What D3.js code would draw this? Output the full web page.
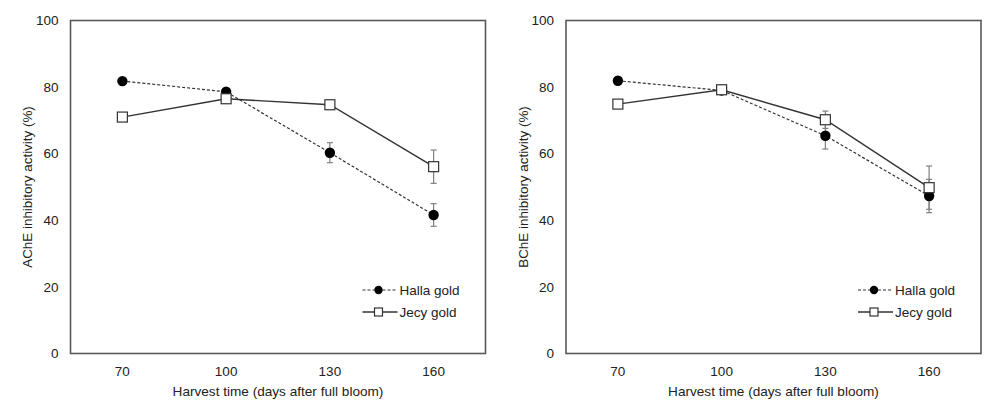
<!DOCTYPE html>
<html>
<head>
<meta charset="utf-8">
<title></title>
<script src="https://cdn.jsdelivr.net/npm/d3@7"></script>
<style>
  body { margin: 0; background: #fff; }
  text { font-family: "Liberation Sans", Arial, sans-serif; fill: #222; }
</style>
</head>
<body>
<script>
const width = 1001
const height = 410

// data
const days = [70, 100, 130, 160]
const yTicks = [0, 20, 40, 60, 80, 100]
const seriesNames = ['Halla gold', 'Jecy gold']

const acheHalla = [81.8, 78.6, 60.3, 41.6]
const acheHallaErr = [0.8, 0.8, 3.0, 3.4]
const acheJecy = [71.0, 76.5, 74.7, 56.1]
const acheJecyErr = [0.8, 1.0, 0.8, 5.0]

const bcheHalla = [81.9, 79.0, 65.4, 47.3]
const bcheHallaErr = [0.8, 0.6, 4.0, 5.0]
const bcheJecy = [74.9, 79.2, 70.2, 49.8]
const bcheJecyErr = [0.6, 0.8, 2.6, 6.5]

const svg = d3.select('body').append('svg')
    .attr('width', width)
    .attr('height', height)

// one panel
function panel(left, yLabel, halla, hallaErr, jecy, jecyErr) {
  const boxW = 415, top = 20.5, bottom = 353.5
  const g = svg.append('g')

  const x = d3.scalePoint()
      .domain(days)
      .range([left, left + boxW])
      .padding(0.5)
  const y = d3.scaleLinear()
      .domain([0, 100])
      .range([bottom, top])

  // frame
  g.append('rect')
      .attr('x', left).attr('y', top)
      .attr('width', boxW).attr('height', bottom - top)
      .attr('fill', 'none')
      .attr('stroke', '#595959')
      .attr('stroke-width', 1.6)

  // y tick labels
  g.selectAll('.yt').data(yTicks).enter().append('text')
      .attr('x', left - 12)
      .attr('y', d => y(d))
      .attr('dy', '0.35em')
      .attr('text-anchor', 'end')
      .style('font-size', '13.5px')
      .text(d => d)

  // x tick labels
  g.selectAll('.xt').data(days).enter().append('text')
      .attr('x', d => x(d))
      .attr('y', 371)
      .attr('dy', '0.35em')
      .attr('text-anchor', 'middle')
      .style('font-size', '13.5px')
      .text(d => d)

  g.append('text')
      .attr('x', left + boxW / 2)
      .attr('y', 391)
      .attr('dy', '0.35em')
      .attr('text-anchor', 'middle')
      .style('font-size', '13.6px')
      .text('Harvest time (days after full bloom)')

  g.append('text')
      .attr('transform', `translate(${left - 43},${(top + bottom) / 2}) rotate(-90)`)
      .attr('dy', '0.35em')
      .attr('text-anchor', 'middle')
      .style('font-size', '13.4px')
      .text(yLabel)

  const line = d3.line().x((d, i) => x(days[i])).y(d => y(d))

  // error bars
  function errBars(vals, errs) {
    const eg = g.append('g').attr('stroke', '#7f7f7f').attr('stroke-width', 1.2)
    vals.forEach((v, i) => {
      const cx = x(days[i])
      eg.append('line').attr('x1', cx).attr('x2', cx)
          .attr('y1', y(v + errs[i])).attr('y2', y(v - errs[i]))
      ;[v + errs[i], v - errs[i]].forEach(e => {
        eg.append('line').attr('x1', cx - 3).attr('x2', cx + 3)
            .attr('y1', y(e)).attr('y2', y(e))
      })
    })
  }
  errBars(halla, hallaErr)
  errBars(jecy, jecyErr)

  g.append('path').datum(halla)
      .attr('d', line)
      .attr('fill', 'none')
      .attr('stroke', '#333')
      .attr('stroke-width', 1.2)
      .attr('stroke-dasharray', '3,2')
  g.append('path').datum(jecy)
      .attr('d', line)
      .attr('fill', 'none')
      .attr('stroke', '#333')
      .attr('stroke-width', 1.4)

  g.selectAll('.hc').data(halla).enter().append('circle')
      .attr('cx', (d, i) => x(days[i]))
      .attr('cy', d => y(d))
      .attr('r', 5.2)
      .attr('fill', '#000')
  g.selectAll('.js').data(jecy).enter().append('rect')
      .attr('x', (d, i) => x(days[i]) - 5)
      .attr('y', d => y(d) - 5)
      .attr('width', 10).attr('height', 10)
      .attr('fill', '#fff')
      .attr('stroke', '#333')
      .attr('stroke-width', 1.2)

  // legend
  const lx = left + 292
  const ly = [290, 312]
  g.append('line').attr('x1', lx).attr('x2', lx + 35)
      .attr('y1', ly[0]).attr('y2', ly[0])
      .attr('stroke', '#333').attr('stroke-width', 1.2).attr('stroke-dasharray', '3,2')
  g.append('circle').attr('cx', lx + 16).attr('cy', ly[0]).attr('r', 4.2).attr('fill', '#000')
  g.append('line').attr('x1', lx).attr('x2', lx + 35)
      .attr('y1', ly[1]).attr('y2', ly[1])
      .attr('stroke', '#333').attr('stroke-width', 1.4)
  g.append('rect').attr('x', lx + 12).attr('y', ly[1] - 4)
      .attr('width', 8).attr('height', 8)
      .attr('fill', '#fff').attr('stroke', '#333').attr('stroke-width', 1.2)
  seriesNames.forEach((s, i) => {
    g.append('text')
        .attr('x', lx + 37)
        .attr('y', ly[i])
        .attr('dy', '0.35em')
        .style('font-size', '13.5px')
        .text(s)
  })
}

panel(70.5, 'AChE inhibitory activity (%)', acheHalla, acheHallaErr, acheJecy, acheJecyErr)
panel(566, 'BChE inhibitory activity (%)', bcheHalla, bcheHallaErr, bcheJecy, bcheJecyErr)
</script>
</body>
</html>
